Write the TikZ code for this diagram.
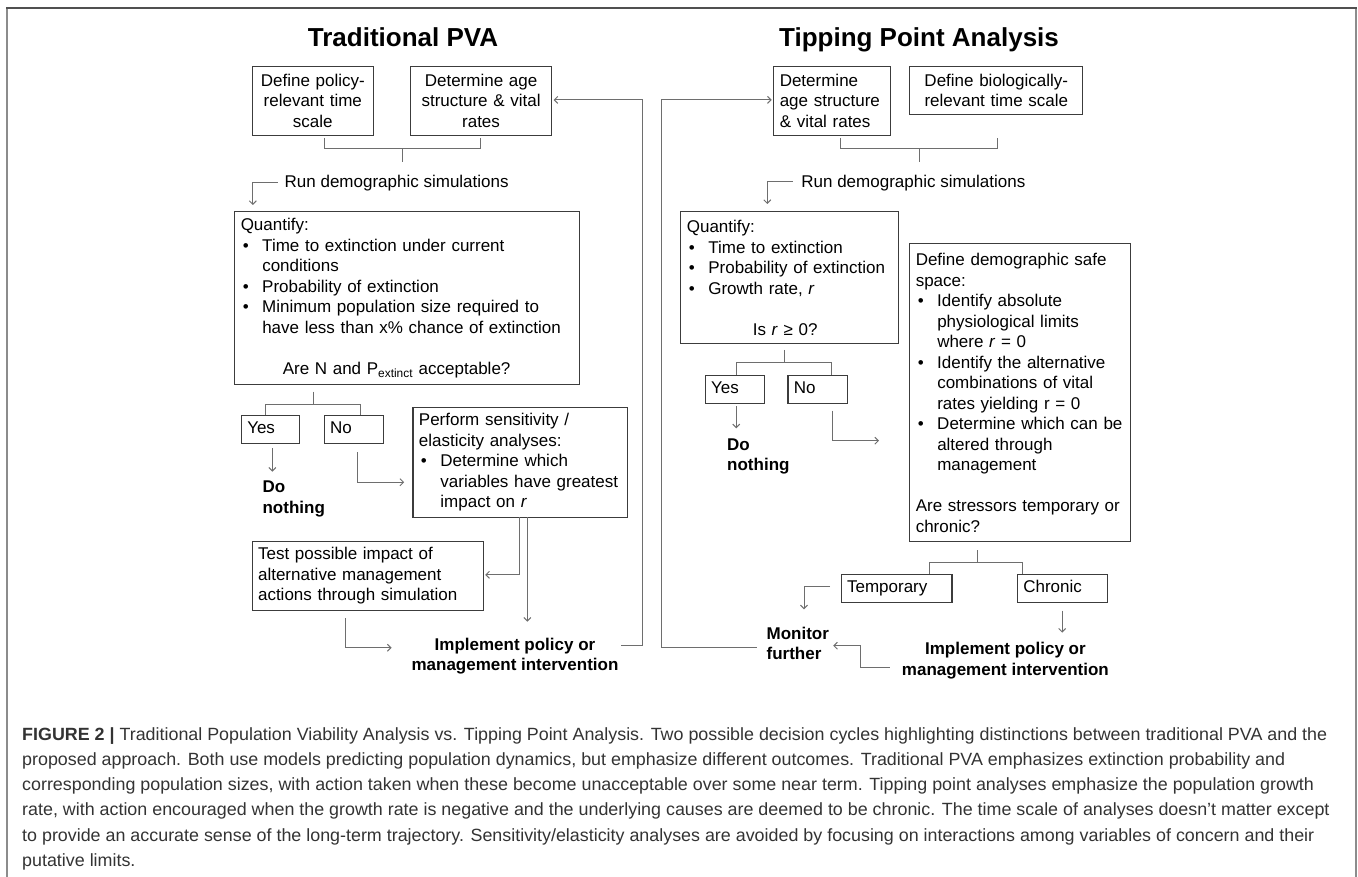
\documentclass[tikz,border=0pt]{standalone}
\usepackage{fontspec}
\setmainfont{Liberation Sans}
\newfontfamily\capfont{Liberation Sans}[FakeStretch=1.01]
\usetikzlibrary{arrows.meta,calc}
\definecolor{boxc}{HTML}{3C3C3C}
\definecolor{linec}{HTML}{6E6E6E}
\definecolor{framec}{HTML}{8C8C8C}
\definecolor{framet}{HTML}{505050}
\definecolor{capc}{HTML}{333333}
\newcommand\bodyf{\fontsize{17}{20.5}\selectfont}
\newcommand\titlef{\fontsize{26}{30}\selectfont\bfseries}
\newcommand\bl{\hspace*{2pt}\makebox[19.5pt][l]{\textbullet}}
\newcommand\ind{\hspace*{21.5pt}}
\tikzset{
  box/.style={draw=boxc, line width=1.1pt, anchor=north west, inner xsep=6pt, inner ysep=2pt, font=\bodyf},
  conn/.style={draw=linec, line width=1pt},
  arr/.style={conn, -{Straight Barb[length=3.5pt,width=7pt]}},
  lbl/.style={inner sep=0pt, font=\bodyf},
  blbl/.style={inner sep=0pt, font=\bodyf\bfseries},
}
\begin{document}
\begin{tikzpicture}[x=1pt,y=-1pt]
\useasboundingbox (0,0) rectangle (1358,877);
% frame
\draw[draw=framec, line width=1.5pt] (7,877) -- (7,8);
\draw[draw=framec, line width=1.5pt] (1356,8) -- (1356,877);
\draw[draw=framet, line width=1.5pt] (6.25,8) -- (1356.75,8);

% titles
\node[font=\titlef, anchor=base, inner sep=0pt] (tL) at (403,46.5) {Traditional PVA};
\node[font=\titlef, anchor=base, inner sep=0pt] (tR) at (919,46.5) {Tipping Point Analysis};

% ---------- Left side ----------
\node[box, minimum width=121.5pt, text width=109.5pt, minimum height=69.3pt, align=center] (L1) at (251.5,65.7)
  {Define policy-\\relevant time\\scale};
\node[box, minimum width=141pt, text width=129pt, minimum height=69.3pt, align=center] (L2) at (410,65.7)
  {Determine age\\structure \& vital\\rates};
\node[lbl, anchor=base west] (runL) at (284.5,188) {Run demographic simulations};
\node[box, minimum width=344.8pt, text width=332.8pt, minimum height=173.3pt, align=left] (LQ) at (234.2,211)
  {Quantify:\\
   \bl Time to extinction under current\\
   \ind conditions\\
   \bl Probability of extinction\\
   \bl Minimum population size required to\\
   \ind have less than x\% chance of extinction\\[20.5pt]
   \hspace*{42pt}Are N and P\textsubscript{extinct} acceptable?};
\node[box, minimum width=58.5pt, text width=46.5pt, minimum height=28.3pt, align=left] (LY) at (240.7,415) {Yes\strut};
\node[box, minimum width=59pt, text width=47pt, minimum height=28.3pt, align=left] (LN) at (323.5,415) {No\strut};
\node[blbl, anchor=base west] (LDN) at (262.4,492.7) {\begin{tabular}[t]{@{}l@{}}Do\\nothing\end{tabular}};
\node[box, minimum width=214.6pt, text width=202.6pt, minimum height=110.6pt, align=left] (LP) at (412.4,406.7)
  {Perform sensitivity /\\
   elasticity analyses:\\
   \bl Determine which\\
   \ind variables have greatest\\
   \ind impact on \textit{r}};
\node[box, minimum width=231.1pt, text width=219.1pt, minimum height=69pt, align=left] (LT) at (251.5,541)
  {Test possible impact of\\
   alternative management\\
   actions through simulation};
\node[blbl, anchor=base] (LI) at (515,650) {\begin{tabular}[t]{@{}c@{}}Implement policy or\\management intervention\end{tabular}};

% left connectors
\draw[conn] (324.4,138) -- (324.4,149) -- (480.5,149) -- (480.5,138);
\draw[conn] (402.4,149) -- (402.4,161.7);
\coordinate (runLs) at (277.5,182.7);
\draw[arr] (runLs) -| ($(LQ.north west)+(18.6,-6)$);
\coordinate (bqL) at (313,391.7);
\draw[conn] (bqL) -- (313,404);
\draw[conn] (LY.north -| 265.4,0) -- (265.4,404) -- (360,404) -- (LN.north -| 360,0);
\coordinate (lyA) at (272.3,448.3);
\draw[arr] (lyA) -- (272.3,471.7);
\coordinate (lnA) at (357.8,452.3);
\draw[arr] (lnA) |- ($(LP.west)+(-8.2,19.7)$);
\coordinate (lpA) at (519.5,517.3);
\draw[arr] (lpA) |- ($(LT.east)+(1.5,-1.2)$);
\coordinate (lpB) at (527.3,517.3);
\draw[arr] (lpB) -- (527.3,621.7);
\coordinate (ltA) at (345.2,618.3);
\draw[arr] (ltA) |- (391.6,647.7);
\coordinate (fbL) at (621,645.7);
\draw[arr] (fbL) -- (642.2,645.7) |- ($(L2.east)+(1.5,-1)$);

% ---------- Right side ----------
\node[box, minimum width=116.3pt, text width=104.3pt, minimum height=69.3pt, align=left] (R1) at (773.2,65.7)
  {Determine\\age structure\\\& vital rates};
\node[box, minimum width=173.1pt, text width=161.1pt, minimum height=48.6pt, align=center] (R2) at (909.2,65.7)
  {Define biologically-\\relevant time scale};
\node[lbl, anchor=base west] (runR) at (801.2,188) {Run demographic simulations};
\node[box, minimum width=217.5pt, text width=205.5pt, minimum height=132.3pt, align=left] (RQ) at (680.3,211)
  {Quantify:\\
   \bl Time to extinction\\
   \bl Probability of extinction\\
   \bl Growth rate, \textit{r}\\[20.5pt]
   \hspace*{66pt}Is \textit{r} ≥ 0?};
\node[box, minimum width=59.4pt, text width=47.4pt, minimum height=28.3pt, align=left] (RY) at (704.6,375) {Yes\strut};
\node[box, minimum width=59.1pt, text width=47.1pt, minimum height=28.3pt, align=left] (RN) at (787.4,375) {No\strut};
\node[blbl, anchor=base west] (RDN) at (727,450) {\begin{tabular}[t]{@{}l@{}}Do\\nothing\end{tabular}};
\node[box, minimum width=220.8pt, text width=208.8pt, minimum height=297.7pt, align=left] (RS) at (909.2,243.3)
  {Define demographic safe\\
   space:\\
   \bl Identify absolute\\
   \ind physiological limits\\
   \ind where \textit{r} = 0\\
   \bl Identify the alternative\\
   \ind combinations of vital\\
   \ind rates yielding r = 0\\
   \bl Determine which can be\\
   \ind altered through\\
   \ind management\\[20.5pt]
   Are stressors temporary or\\
   chronic?};
\node[box, minimum width=110.9pt, text width=98.9pt, minimum height=28.3pt, align=left] (RT) at (840.5,574) {Temporary\strut};
\node[box, minimum width=90.2pt, text width=78.2pt, minimum height=28.3pt, align=left] (RC) at (1016.8,574) {Chronic\strut};
\node[blbl, anchor=base west] (RM) at (766.4,639.3) {\begin{tabular}[t]{@{}l@{}}Monitor\\further\end{tabular}};
\node[blbl, anchor=base] (RI) at (1005.4,654.7) {\begin{tabular}[t]{@{}c@{}}Implement policy or\\management intervention\end{tabular}};

% right connectors
\coordinate (fbR) at (756.8,647.3);
\draw[arr] (fbR) -- (661.5,647.3) |- ($(R1.west)+(-1.5,-1)$);
\draw[conn] (840.5,138) -- (840.5,149) -- (997.6,149) -- (997.6,138);
\draw[conn] (919.3,149) -- (919.3,161.7);
\coordinate (runRs) at (792.5,181.7);
\draw[arr] (runRs) -| ($(RQ.north west)+(87,-7)$);
\coordinate (bqR) at (784.2,350);
\draw[conn] (bqR) -- (784.2,362.3);
\draw[conn] (RY.north -| 736.2,0) -- (736.2,362.3) -- (831,362.3) -- (RN.north -| 831,0);
\coordinate (ryA) at (736.2,406);
\draw[arr] (ryA) -- (736.2,428.3);
\coordinate (rnA) at (832.3,410.7);
\draw[arr] (rnA) |- (879,440.7);
\coordinate (bsR) at (977,550);
\draw[conn] (bsR) -- (977,562.7);
\draw[conn] (RT.north -| 929.4,0) -- (929.4,562.7) -- (1022.8,562.7) -- (RC.north -| 1022.8,0);
\coordinate (rtA) at (830,586.7);
\draw[arr] (rtA) -| (804,609.3);
\coordinate (rcA) at (1062.2,610.7);
\draw[arr] (rcA) -- (1062.2,632.7);
\coordinate (riA) at (889.5,667.7);
\draw[arr] (riA) -- (860.2,667.7) |- (833.2,645.7);

% caption
\node[anchor=base west, inner sep=0pt, text=capc, font=\capfont\fontsize{17.7}{25.3}\selectfont] (cap) at (22,740)
{\parbox[t]{2000pt}{\textbf{FIGURE 2 |} Traditional Population Viability Analysis vs. Tipping Point Analysis. Two possible decision cycles highlighting distinctions between traditional PVA and the\\
proposed approach. Both use models predicting population dynamics, but emphasize different outcomes. Traditional PVA emphasizes extinction probability and\\
corresponding population sizes, with action taken when these become unacceptable over some near term. Tipping point analyses emphasize the population growth\\
rate, with action encouraged when the growth rate is negative and the underlying causes are deemed to be chronic. The time scale of analyses doesn’t matter except\\
to provide an accurate sense of the long-term trajectory. Sensitivity/elasticity analyses are avoided by focusing on interactions among variables of concern and their\\
putative limits.}};
\end{tikzpicture}
\end{document}
